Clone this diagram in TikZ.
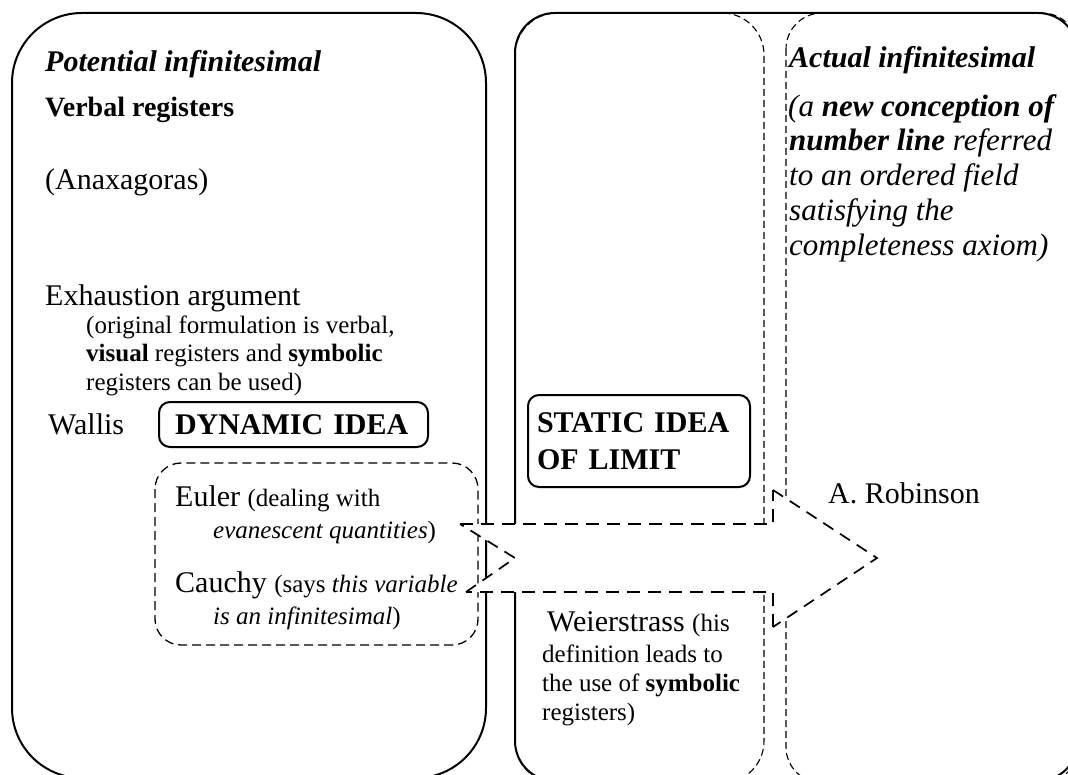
\documentclass[tikz,border=0pt]{standalone}
\usepackage{fontspec}
\setmainfont{Liberation Serif}
\newcommand\szA{\fontsize{30}{34}\selectfont}
\newcommand\szB{\fontsize{25}{29}\selectfont}
\newcommand\szC{\fontsize{31}{34}\selectfont}
\tikzset{
  solidbox/.style={draw, line width=2pt},
  thinbox/.style={draw, line width=1.1pt, dash pattern=on 7pt off 4pt},
  eulerbox/.style={draw, line width=1.3pt, dash pattern=on 9pt off 5pt},
  arrthick/.style={draw, line width=2.6pt, dash pattern=on 13pt off 8pt},
  arrthin/.style={draw, line width=1.7pt, dash pattern=on 12pt off 8pt},
  txt/.style={anchor=base west, inner sep=0pt, font=\szA},
  small/.style={anchor=base west, inner sep=0pt, font=\szB},
  idea/.style={draw, line width=2pt, rounded corners=11pt, align=left, font=\szA\bfseries, inner ysep=0pt},
}
\begin{document}
\begin{tikzpicture}[x=1pt,y=-1pt]
\useasboundingbox (0,0) rectangle (1068,775);
\clip (0,0) rectangle (1068,775);
% column frames
\draw[thinbox, rounded corners=42pt] (515,13) rectangle (764,783);
\draw[thinbox, rounded corners=36pt] (786,13) rectangle (1078,783);
\draw[solidbox, rounded corners=70pt] (12,13) rectangle (486,778);
\draw[solidbox, rounded corners=40pt] (515,13) rectangle (1078,781);
\draw[eulerbox, rounded corners=26pt] (155,463) rectangle (478,645);
% idea boxes
\node[idea, text width=237pt, inner xsep=16pt, minimum height=45pt] (dyn) at (293.5,424.5) {DYNAMIC IDEA};
\node[idea, text width=204pt, inner xsep=9pt, minimum height=92pt, font=\fontsize{30}{37}\selectfont\bfseries] (stat) at (639,441) {STATIC IDEA\\OF LIMIT};
% big dashed arrow
\coordinate (tl) at (460,524);
\coordinate (sr) at (773,524);
\coordinate (ht) at (773,490);
\coordinate (tip) at (877,558);
\coordinate (hb) at (773,627);
\coordinate (br) at (773,592);
\coordinate (bl) at (466,592);
\coordinate (notch) at (515,558);
\fill[white] (tl) -- (sr) -- (ht) -- (tip) -- (hb) -- (br) -- (bl) -- (notch) -- cycle;
\draw[arrthick] (tl) -- (sr) -- (ht);
\draw[arrthick] (hb) -- (br) -- (bl);
\draw[arrthin] (ht) -- (tip) -- (hb);
\draw[arrthin] (bl) -- (notch) -- (tl);
% left column text
\node[txt] (pot) at (45,72) {\bfseries\itshape Potential infinitesimal};
\node[txt, font=\fontsize{28}{32}\selectfont\bfseries] (verb) at (45,117) {Verbal registers};
\node[txt] (anax) at (45,190) {(Anaxagoras)};
\node[txt] (exh) at (45,306) {Exhaustion argument};
\node[small] (exh1) at (86,334) {(original formulation is verbal,};
\node[small] (exh2) at (86,362) {\textbf{visual} registers and \textbf{symbolic}};
\node[small] (exh3) at (86,390) {registers can be used)};
\node[txt] (wallis) at (48,434) {Wallis};
\node[txt] (euler) at (175,506) {Euler {\szB(dealing with}};
\node[small] (euler2) at (213,538) {\textit{evanescent quantities})};
\node[txt] (cauchy) at (175,592) {Cauchy {\szB(says \textit{this variable}}};
\node[small] (cauchy2) at (213,624) {\textit{is an infinitesimal})};
% middle column text
\node[txt] (weier) at (547,631) {Weierstrass {\szB(his}};
\node[small] (weier2) at (542,662) {definition leads to};
\node[small] (weier3) at (542,691) {the use of \textbf{symbolic}};
\node[small] (weier4) at (542,720) {registers)};
% right column text
\node[txt] (act) at (789,68) {\bfseries\itshape Actual infinitesimal};
\node[txt, font=\szC\itshape] (act1) at (788,117) {(a \textbf{new conception of}};
\node[txt, font=\szC\itshape] (act2) at (789,151) {\textbf{number line} referred};
\node[txt, font=\szC\itshape] (act3) at (789,186) {to an ordered field};
\node[txt, font=\szC\itshape] (act4) at (789,221) {satisfying the};
\node[txt, font=\szC\itshape] (act5) at (789,256) {completeness axiom)};
\node[txt] (rob) at (828,503) {A. Robinson};
\end{tikzpicture}
\end{document}
